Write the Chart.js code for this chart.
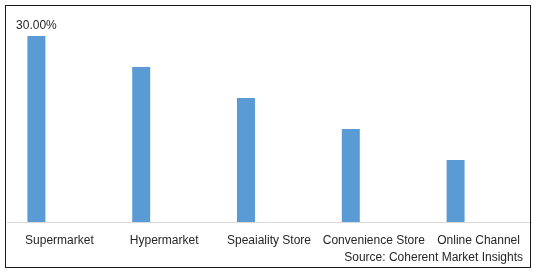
<!DOCTYPE html>
<html>
<head>
<meta charset="utf-8">
<script src="https://cdn.jsdelivr.net/npm/chart.js@4.4.1/dist/chart.umd.min.js"></script>
<style>
    html, body { margin: 0; padding: 0; background: #fff; }
    #wrap { width: 538px; height: 272px; position: relative; }
</style>
</head>
<body>
<div id="wrap"><canvas id="channelChart" width="538" height="272"></canvas></div>
<script>
let channels = ["Supermarket", "Hypermarket", "Speaiality Store", "Convenience Store", "Online Channel"];
let shareValues = [30, 25, 20, 15, 10];
// empty second series, keeps the bars left of the category centre like the original
let spacerValues = [null, null, null, null, null];
let sourceText = "Source: Coherent Market Insights";

const textColor = '#262626';

// frame, first-bar label and source line
const decorPlugin = {
    id: 'decor',
    afterDraw(chart) {
        const c = chart.ctx;
        c.save();
        c.strokeStyle = '#1a1a1a';
        c.lineWidth = 1;
        c.strokeRect(5.5, 5.5, 525, 262);

        c.fillStyle = textColor;
        c.font = '12px "Liberation Sans", Arial, sans-serif';
        const bar = chart.getDatasetMeta(0).data[0];
        c.textAlign = 'center';
        c.textBaseline = 'bottom';
        c.fillText(shareValues[0].toFixed(2) + '%', bar.x, bar.y - 4);

        c.textAlign = 'right';
        c.textBaseline = 'middle';
        c.fillText(sourceText, 523, 258);
        c.restore();
    }
};

document.addEventListener("DOMContentLoaded", function () {
    const ctx = document.getElementById('channelChart').getContext('2d');

    new Chart(ctx, {
        type: 'bar',
        data: {
            labels: channels,
            datasets: [{
                data: shareValues,
                backgroundColor: '#5B9BD5',
                categoryPercentage: 0.878,
                barPercentage: 0.391
            }, {
                data: spacerValues,
                backgroundColor: '#ED7D31',
                categoryPercentage: 0.878,
                barPercentage: 0.391
            }]
        },
        options: {
            responsive: false,
            animation: false,
            layout: {
                padding: { top: 36, left: 7, right: 7, bottom: 0 }
            },
            scales: {
                x: {
                    grid: { display: false, drawTicks: false },
                    border: { display: true, color: '#d9d9d9', width: 1 },
                    ticks: {
                        color: textColor,
                        font: { family: '"Liberation Sans", Arial, sans-serif', size: 12 },
                        padding: 11,
                        maxRotation: 0,
                        autoSkip: false
                    },
                    afterFit(scale) { scale.height = 50; }
                },
                y: {
                    display: false,
                    min: 0,
                    max: 30
                }
            },
            plugins: {
                legend: { display: false },
                tooltip: { enabled: false }
            }
        },
        plugins: [decorPlugin]
    });
});
</script>
</body>
</html>
